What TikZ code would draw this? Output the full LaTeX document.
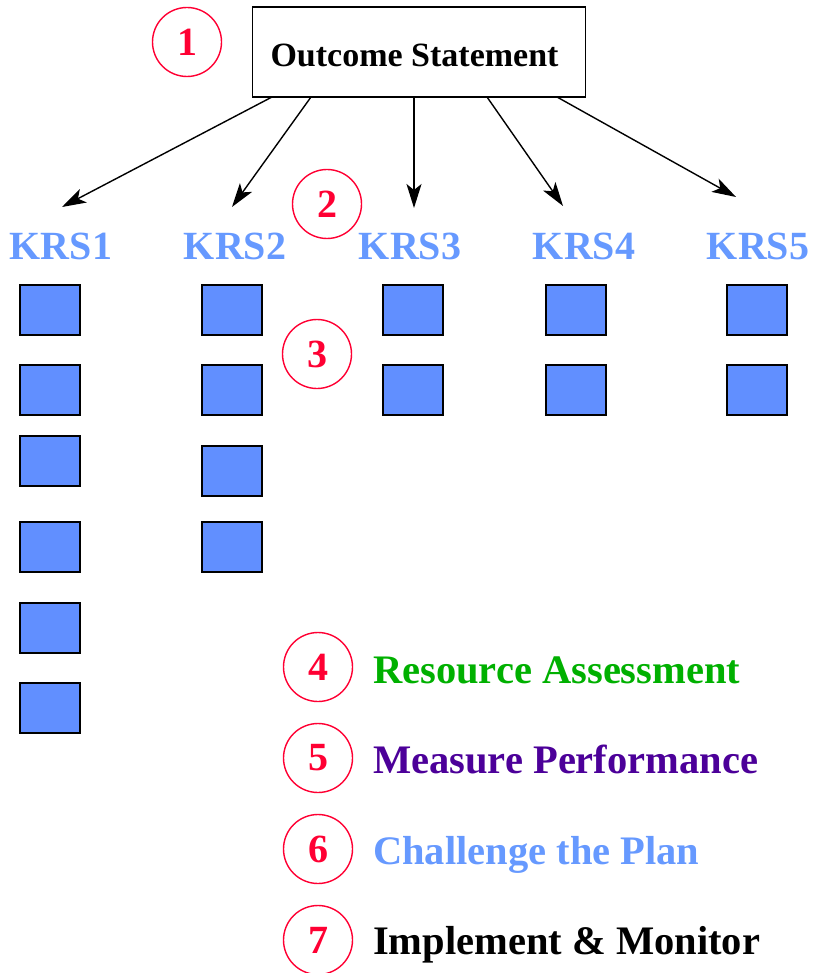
\documentclass[tikz,border=0pt]{standalone}
\usepackage{fontspec}
\setmainfont{Liberation Serif}
\usetikzlibrary{arrows.meta}
\definecolor{numred}{RGB}{255,0,51}
\definecolor{krsblue}{RGB}{102,153,255}
\definecolor{boxblue}{RGB}{97,143,255}
\definecolor{stepgreen}{RGB}{0,176,0}
\definecolor{steppurple}{RGB}{76,0,153}
\tikzset{
  numcircle/.style={circle, draw=numred, line width=1.4pt, minimum size=69pt, inner sep=0pt,
    text=numred, font=\fontsize{40}{42}\selectfont\bfseries},
  krslabel/.style={anchor=base, text=krsblue, inner sep=0pt, font=\fontsize{40}{44}\selectfont\bfseries},
  steplabel/.style={anchor=base west, inner sep=0pt, font=\fontsize{40.5}{44}\selectfont\bfseries},
  task/.style={draw=black, fill=boxblue, line width=2pt, minimum width=60pt, minimum height=50pt, inner sep=0pt},
  link/.style={line width=1.4pt, -{Stealth[length=24pt,width=15pt,inset=6pt]}}
}
\begin{document}
\begin{tikzpicture}[x=1pt,y=-1pt]
\useasboundingbox (0,0) rectangle (815,973);

% outcome box and its title
\node[draw=black, line width=1.6pt, minimum width=333pt, minimum height=90pt, inner sep=0pt] (outcome) at (419,52) {};
\node[anchor=base, inner sep=0pt, font=\fontsize{34}{36}\selectfont\bfseries] (outcometext) at (414.5,67) {Outcome Statement};

% step numbers
\node[numcircle] (n1) at (187,42) {1};
\node[numcircle] (n2) at (327,204) {2};
\node[numcircle] (n3) at (317,354) {3};
\node[numcircle] (n4) at (318,667) {4};
\node[numcircle] (n5) at (318,758) {5};
\node[numcircle] (n6) at (318,849) {6};
\node[numcircle] (n7) at (318,940) {7};

% key result areas
\node[krslabel] (k1) at (61,260) {KRS1};
\node[krslabel] (k2) at (235,260) {KRS2};
\node[krslabel] (k3) at (410,260) {KRS3};
\node[krslabel] (k4) at (584,260) {KRS4};
\node[krslabel] (k5) at (758,260) {KRS5};

% arrows from the outcome to each key result area
\coordinate (s1) at (272,97);  \coordinate (e1) at (62,207);
\coordinate (s2) at (311,97);  \coordinate (e2) at (232,207);
\coordinate (s3) at (414,97);  \coordinate (e3) at (414,208);
\coordinate (s4) at (487,97);  \coordinate (e4) at (563,206);
\coordinate (s5) at (557,97);  \coordinate (e5) at (736,197);
\foreach \i in {1,...,5} \draw[link] (s\i) -- (e\i);

% tasks under each area
\node[task] (a1) at (50,310) {};
\node[task] (a2) at (50,390) {};
\node[task] (a3) at (50,461) {};
\node[task] (a4) at (50,547) {};
\node[task] (a5) at (50,628) {};
\node[task] (a6) at (50,708) {};
\node[task] (b1) at (232,310) {};
\node[task] (b2) at (232,390) {};
\node[task] (b3) at (232,471) {};
\node[task] (b4) at (232,547) {};
\node[task] (c1) at (413,310) {};
\node[task] (c2) at (413,390) {};
\node[task] (d1) at (576,310) {};
\node[task] (d2) at (576,390) {};
\node[task] (f1) at (757,310) {};
\node[task] (f2) at (757,390) {};

% process steps
\node[steplabel, text=stepgreen] (t4) at (373,683) {Resource Assessment};
\node[steplabel, text=steppurple] (t5) at (373,773) {Measure Performance};
\node[steplabel, text=krsblue] (t6) at (373,864) {Challenge the Plan};
\node[steplabel, text=black] (t7) at (373,954) {Implement \& Monitor};
\end{tikzpicture}
\end{document}
